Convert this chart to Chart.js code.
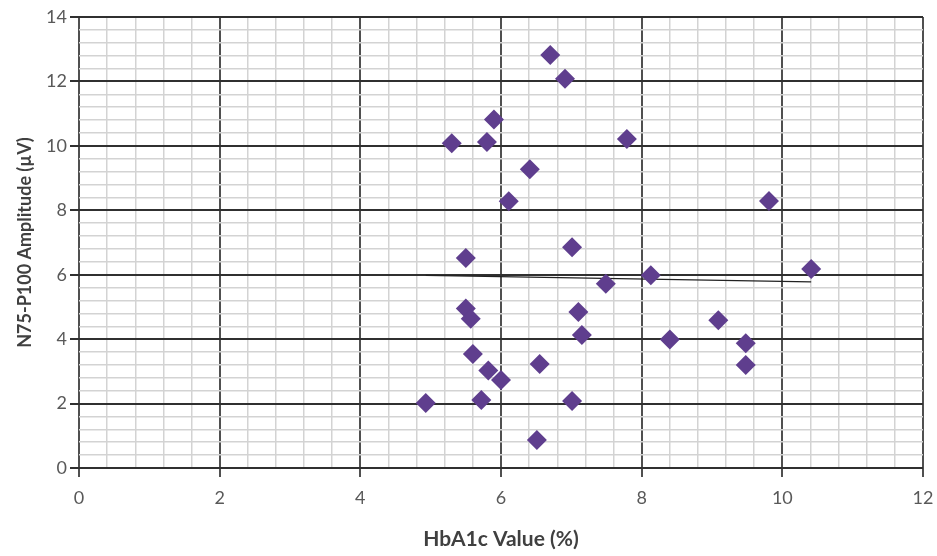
<!DOCTYPE html>
<html>
<head>
<meta charset="utf-8">
<script src="https://cdn.jsdelivr.net/npm/chart.js@4/dist/chart.umd.min.js"></script>
<style>
  html, body { margin: 0; padding: 0; background: #fff; }
  #wrap { width: 937px; height: 556px; position: relative; }
</style>
</head>
<body>
<div id="wrap"><canvas id="c"></canvas></div>
<script>
// HbA1c value (%) for each subject
const hba1c = [4.93, 5.30, 5.50, 5.50, 5.57, 5.60, 5.72, 5.80, 5.82, 5.90,
               6.00, 6.11, 6.41, 6.51, 6.55, 6.70, 6.91, 7.01, 7.01, 7.10,
               7.15, 7.49, 7.79, 8.13, 8.40, 9.09, 9.48, 9.48, 9.81, 10.41];
// N75-P100 amplitude (µV) for each subject
const amplitude = [2.02, 10.08, 6.52, 4.95, 4.63, 3.54, 2.11, 10.12, 3.03, 10.82,
                   2.73, 8.28, 9.27, 0.87, 3.23, 12.82, 12.08, 6.85, 2.08, 4.84,
                   4.13, 5.72, 10.21, 5.98, 3.99, 4.59, 3.87, 3.20, 8.29, 6.18];
// Linear trend line end points
const trendX = [4.93, 10.41];
const trendY = [5.98, 5.78];

const xTitle = 'HbA1c Value (%)';
const yTitle = 'N75-P100 Amplitude (µV)';

const points = hba1c.map((v, i) => ({ x: v, y: amplitude[i] }));
const trend = trendX.map((v, i) => ({ x: v, y: trendY[i] }));

const isMajor = v => Math.abs(v / 2 - Math.round(v / 2)) < 1e-6;
const FONT = 'Lato, "Open Sans", sans-serif';

function axis(min, max, title, horizontal) {
  return {
    type: 'linear',
    min: min, max: max,
    border: { display: false },
    grid: {
      color: ctx => isMajor(ctx.tick.value) ? (horizontal ? '#505050' : '#303030') : '#d3d3d3',
      lineWidth: ctx => isMajor(ctx.tick.value) ? 2 : 1.5,
      tickColor: ctx => isMajor(ctx.tick.value) ? (horizontal ? '#505050' : '#303030') : 'rgba(0,0,0,0)',
      tickLength: 9,
      drawTicks: true
    },
    ticks: {
      stepSize: 0.4,
      autoSkip: false,
      maxRotation: 0,
      minRotation: 0,
      color: '#595959',
      font: { family: FONT, size: 18 },
      padding: horizontal ? 10 : 3,
      callback: v => isMajor(v) ? String(Math.round(v)) : ''
    },
    title: {
      display: true,
      text: title,
      color: '#404040',
      font: { family: FONT, size: horizontal ? 21 : 18, weight: 'bold' },
      padding: horizontal ? { top: 8, bottom: 4 } : { top: 14, bottom: 4 }
    },
    afterFit: s => {
      if (horizontal) { s.height = 88; s.paddingLeft = 0; s.paddingRight = 0; }
      else { s.width = 79; s.paddingTop = 0; s.paddingBottom = 0; }
    }
  };
}

new Chart(document.getElementById('c'), {
  type: 'scatter',
  data: {
    datasets: [
      {
        label: 'Amplitude',
        data: points,
        pointStyle: 'rectRot',
        pointRadius: 10,
        pointHoverRadius: 10,
        backgroundColor: '#5f3e8e',
        borderColor: '#5f3e8e',
        borderWidth: 0
      },
      {
        type: 'line',
        label: 'Trend',
        data: trend,
        borderColor: '#222222',
        borderWidth: 1.3,
        pointRadius: 0,
        fill: false
      }
    ]
  },
  options: {
    responsive: true,
    maintainAspectRatio: false,
    animation: false,
    layout: { padding: { left: 0, right: 14, top: 17, bottom: 0 } },
    plugins: { legend: { display: false }, tooltip: { enabled: false } },
    scales: {
      x: axis(0, 12, xTitle, true),
      y: axis(0, 14, yTitle, false)
    }
  }
});
</script>
</body>
</html>
